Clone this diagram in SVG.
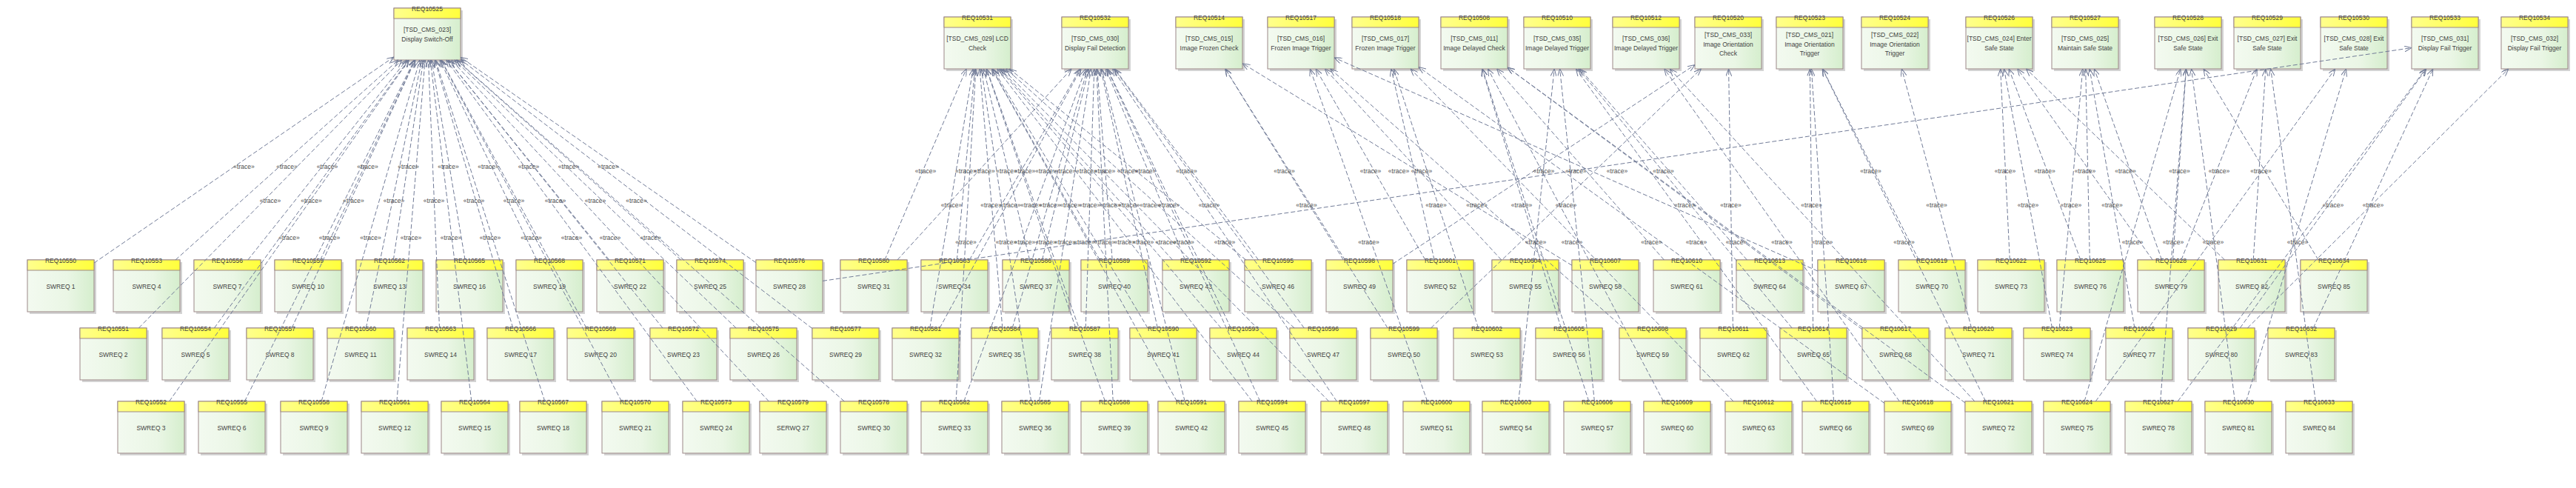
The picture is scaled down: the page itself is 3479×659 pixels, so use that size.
<svg xmlns="http://www.w3.org/2000/svg" width="3479" height="659" viewBox="0 0 3479 659">
<style>
.c{stroke:#717b97;stroke-width:1;stroke-dasharray:6 3;fill:none;marker-end:url(#arr)}
.lb{font-family:"Liberation Sans",Arial,sans-serif;font-size:8.5px;fill:#4a4a4a;text-anchor:middle}
.id{font-family:"Liberation Sans",Arial,sans-serif;font-size:8.5px;fill:#3f3f3f;text-anchor:middle}
.tx{font-family:"Liberation Sans",Arial,sans-serif;font-size:8.5px;fill:#3f3f3f;text-anchor:middle}
</style>
<defs>
<linearGradient id="gb" x1="0" y1="0" x2="1" y2="0"><stop offset="0" stop-color="#f3faf0"/><stop offset="0.6" stop-color="#eaf6e5"/><stop offset="1" stop-color="#d5eecd"/></linearGradient>
<linearGradient id="gh" x1="0" y1="0" x2="1" y2="0"><stop offset="0" stop-color="#ffff8c"/><stop offset="1" stop-color="#ffff3c"/></linearGradient>
<marker id="arr" viewBox="0 0 10 8" refX="10" refY="4" markerWidth="10" markerHeight="8" markerUnits="userSpaceOnUse" orient="auto"><path d="M0,0 L10,4 L0,8" fill="none" stroke="#6f7995" stroke-width="1"/></marker>
<g id="box">
<rect x="3" y="3" width="90" height="70" fill="#d3d3d3"/>
<rect x="0" y="0" width="90" height="70" fill="url(#gb)" stroke="#9c8787"/>
<rect x="0" y="0" width="90" height="14" fill="url(#gh)" stroke="#9c8787"/>
</g>
</defs>
<rect width="3479" height="659" fill="#ffffff"/>
<g id="nodes">
<g id="REQ10525" transform="translate(532,11)"><use href="#box"/><text class="id" x="45" y="4">REQ10525</text><text class="tx" x="45" y="32">[TSD_CMS_023]</text><text class="tx" x="45" y="45">Display Switch-Off</text></g>
<g id="REQ10531" transform="translate(1275,23)"><use href="#box"/><text class="id" x="45" y="4">REQ10531</text><text class="tx" x="45" y="32">[TSD_CMS_029] LCD</text><text class="tx" x="45" y="45">Check</text></g>
<g id="REQ10532" transform="translate(1434,23)"><use href="#box"/><text class="id" x="45" y="4">REQ10532</text><text class="tx" x="45" y="32">[TSD_CMS_030]</text><text class="tx" x="45" y="45">Display Fail Detection</text></g>
<g id="REQ10514" transform="translate(1588,23)"><use href="#box"/><text class="id" x="45" y="4">REQ10514</text><text class="tx" x="45" y="32">[TSD_CMS_015]</text><text class="tx" x="45" y="45">Image Frozen Check</text></g>
<g id="REQ10517" transform="translate(1712,23)"><use href="#box"/><text class="id" x="45" y="4">REQ10517</text><text class="tx" x="45" y="32">[TSD_CMS_016]</text><text class="tx" x="45" y="45">Frozen Image Trigger</text></g>
<g id="REQ10518" transform="translate(1826,23)"><use href="#box"/><text class="id" x="45" y="4">REQ10518</text><text class="tx" x="45" y="32">[TSD_CMS_017]</text><text class="tx" x="45" y="45">Frozen Image Trigger</text></g>
<g id="REQ10508" transform="translate(1946,23)"><use href="#box"/><text class="id" x="45" y="4">REQ10508</text><text class="tx" x="45" y="32">[TSD_CMS_011]</text><text class="tx" x="45" y="45">Image Delayed Check</text></g>
<g id="REQ10510" transform="translate(2058,23)"><use href="#box"/><text class="id" x="45" y="4">REQ10510</text><text class="tx" x="45" y="32">[TSD_CMS_035]</text><text class="tx" x="45" y="45">Image Delayed Trigger</text></g>
<g id="REQ10512" transform="translate(2178,23)"><use href="#box"/><text class="id" x="45" y="4">REQ10512</text><text class="tx" x="45" y="32">[TSD_CMS_036]</text><text class="tx" x="45" y="45">Image Delayed Trigger</text></g>
<g id="REQ10520" transform="translate(2289,23)"><use href="#box"/><text class="id" x="45" y="4">REQ10520</text><text class="tx" x="45" y="27">[TSD_CMS_033]</text><text class="tx" x="45" y="39.5">Image Orientation</text><text class="tx" x="45" y="52">Check</text></g>
<g id="REQ10523" transform="translate(2399,23)"><use href="#box"/><text class="id" x="45" y="4">REQ10523</text><text class="tx" x="45" y="27">[TSD_CMS_021]</text><text class="tx" x="45" y="39.5">Image Orientation</text><text class="tx" x="45" y="52">Trigger</text></g>
<g id="REQ10524" transform="translate(2514,23)"><use href="#box"/><text class="id" x="45" y="4">REQ10524</text><text class="tx" x="45" y="27">[TSD_CMS_022]</text><text class="tx" x="45" y="39.5">Image Orientation</text><text class="tx" x="45" y="52">Trigger</text></g>
<g id="REQ10526" transform="translate(2655,23)"><use href="#box"/><text class="id" x="45" y="4">REQ10526</text><text class="tx" x="45" y="32">[TSD_CMS_024] Enter</text><text class="tx" x="45" y="45">Safe State</text></g>
<g id="REQ10527" transform="translate(2771,23)"><use href="#box"/><text class="id" x="45" y="4">REQ10527</text><text class="tx" x="45" y="32">[TSD_CMS_025]</text><text class="tx" x="45" y="45">Maintain Safe State</text></g>
<g id="REQ10528" transform="translate(2910,23)"><use href="#box"/><text class="id" x="45" y="4">REQ10528</text><text class="tx" x="45" y="32">[TSD_CMS_026] Exit</text><text class="tx" x="45" y="45">Safe State</text></g>
<g id="REQ10529" transform="translate(3017,23)"><use href="#box"/><text class="id" x="45" y="4">REQ10529</text><text class="tx" x="45" y="32">[TSD_CMS_027] Exit</text><text class="tx" x="45" y="45">Safe State</text></g>
<g id="REQ10530" transform="translate(3134,23)"><use href="#box"/><text class="id" x="45" y="4">REQ10530</text><text class="tx" x="45" y="32">[TSD_CMS_028] Exit</text><text class="tx" x="45" y="45">Safe State</text></g>
<g id="REQ10533" transform="translate(3257,23)"><use href="#box"/><text class="id" x="45" y="4">REQ10533</text><text class="tx" x="45" y="32">[TSD_CMS_031]</text><text class="tx" x="45" y="45">Display Fail Trigger</text></g>
<g id="REQ10534" transform="translate(3378,23)"><use href="#box"/><text class="id" x="45" y="4">REQ10534</text><text class="tx" x="45" y="32">[TSD_CMS_032]</text><text class="tx" x="45" y="45">Display Fail Trigger</text></g>

<g id="REQ10550" transform="translate(37,351)"><use href="#box"/><text class="id" x="45" y="4">REQ10550</text><text class="tx" x="45" y="39">SWREQ 1</text></g>
<g id="REQ10553" transform="translate(153,351)"><use href="#box"/><text class="id" x="45" y="4">REQ10553</text><text class="tx" x="45" y="39">SWREQ 4</text></g>
<g id="REQ10556" transform="translate(262,351)"><use href="#box"/><text class="id" x="45" y="4">REQ10556</text><text class="tx" x="45" y="39">SWREQ 7</text></g>
<g id="REQ10559" transform="translate(371,351)"><use href="#box"/><text class="id" x="45" y="4">REQ10559</text><text class="tx" x="45" y="39">SWREQ 10</text></g>
<g id="REQ10562" transform="translate(481,351)"><use href="#box"/><text class="id" x="45" y="4">REQ10562</text><text class="tx" x="45" y="39">SWREQ 13</text></g>
<g id="REQ10565" transform="translate(589,351)"><use href="#box"/><text class="id" x="45" y="4">REQ10565</text><text class="tx" x="45" y="39">SWREQ 16</text></g>
<g id="REQ10568" transform="translate(697,351)"><use href="#box"/><text class="id" x="45" y="4">REQ10568</text><text class="tx" x="45" y="39">SWREQ 19</text></g>
<g id="REQ10571" transform="translate(806,351)"><use href="#box"/><text class="id" x="45" y="4">REQ10571</text><text class="tx" x="45" y="39">SWREQ 22</text></g>
<g id="REQ10574" transform="translate(914,351)"><use href="#box"/><text class="id" x="45" y="4">REQ10574</text><text class="tx" x="45" y="39">SWREQ 25</text></g>
<g id="REQ10576" transform="translate(1021,351)"><use href="#box"/><text class="id" x="45" y="4">REQ10576</text><text class="tx" x="45" y="39">SWREQ 28</text></g>
<g id="REQ10580" transform="translate(1135,351)"><use href="#box"/><text class="id" x="45" y="4">REQ10580</text><text class="tx" x="45" y="39">SWREQ 31</text></g>
<g id="REQ10583" transform="translate(1244,351)"><use href="#box"/><text class="id" x="45" y="4">REQ10583</text><text class="tx" x="45" y="39">SWREQ 34</text></g>
<g id="REQ10586" transform="translate(1354,351)"><use href="#box"/><text class="id" x="45" y="4">REQ10586</text><text class="tx" x="45" y="39">SWREQ 37</text></g>
<g id="REQ10589" transform="translate(1460,351)"><use href="#box"/><text class="id" x="45" y="4">REQ10589</text><text class="tx" x="45" y="39">SWREQ 40</text></g>
<g id="REQ10592" transform="translate(1570,351)"><use href="#box"/><text class="id" x="45" y="4">REQ10592</text><text class="tx" x="45" y="39">SWREQ 43</text></g>
<g id="REQ10595" transform="translate(1681,351)"><use href="#box"/><text class="id" x="45" y="4">REQ10595</text><text class="tx" x="45" y="39">SWREQ 46</text></g>
<g id="REQ10598" transform="translate(1791,351)"><use href="#box"/><text class="id" x="45" y="4">REQ10598</text><text class="tx" x="45" y="39">SWREQ 49</text></g>
<g id="REQ10601" transform="translate(1900,351)"><use href="#box"/><text class="id" x="45" y="4">REQ10601</text><text class="tx" x="45" y="39">SWREQ 52</text></g>
<g id="REQ10604" transform="translate(2015,351)"><use href="#box"/><text class="id" x="45" y="4">REQ10604</text><text class="tx" x="45" y="39">SWREQ 55</text></g>
<g id="REQ10607" transform="translate(2123,351)"><use href="#box"/><text class="id" x="45" y="4">REQ10607</text><text class="tx" x="45" y="39">SWREQ 58</text></g>
<g id="REQ10610" transform="translate(2233,351)"><use href="#box"/><text class="id" x="45" y="4">REQ10610</text><text class="tx" x="45" y="39">SWREQ 61</text></g>
<g id="REQ10613" transform="translate(2345,351)"><use href="#box"/><text class="id" x="45" y="4">REQ10613</text><text class="tx" x="45" y="39">SWREQ 64</text></g>
<g id="REQ10616" transform="translate(2455,351)"><use href="#box"/><text class="id" x="45" y="4">REQ10616</text><text class="tx" x="45" y="39">SWREQ 67</text></g>
<g id="REQ10619" transform="translate(2564,351)"><use href="#box"/><text class="id" x="45" y="4">REQ10619</text><text class="tx" x="45" y="39">SWREQ 70</text></g>
<g id="REQ10622" transform="translate(2671,351)"><use href="#box"/><text class="id" x="45" y="4">REQ10622</text><text class="tx" x="45" y="39">SWREQ 73</text></g>
<g id="REQ10625" transform="translate(2778,351)"><use href="#box"/><text class="id" x="45" y="4">REQ10625</text><text class="tx" x="45" y="39">SWREQ 76</text></g>
<g id="REQ10628" transform="translate(2887,351)"><use href="#box"/><text class="id" x="45" y="4">REQ10628</text><text class="tx" x="45" y="39">SWREQ 79</text></g>
<g id="REQ10631" transform="translate(2996,351)"><use href="#box"/><text class="id" x="45" y="4">REQ10631</text><text class="tx" x="45" y="39">SWREQ 82</text></g>
<g id="REQ10634" transform="translate(3107,351)"><use href="#box"/><text class="id" x="45" y="4">REQ10634</text><text class="tx" x="45" y="39">SWREQ 85</text></g>

<g id="REQ10551" transform="translate(108,443)"><use href="#box"/><text class="id" x="45" y="4">REQ10551</text><text class="tx" x="45" y="39">SWREQ 2</text></g>
<g id="REQ10554" transform="translate(219,443)"><use href="#box"/><text class="id" x="45" y="4">REQ10554</text><text class="tx" x="45" y="39">SWREQ 5</text></g>
<g id="REQ10557" transform="translate(333,443)"><use href="#box"/><text class="id" x="45" y="4">REQ10557</text><text class="tx" x="45" y="39">SWREQ 8</text></g>
<g id="REQ10560" transform="translate(442,443)"><use href="#box"/><text class="id" x="45" y="4">REQ10560</text><text class="tx" x="45" y="39">SWREQ 11</text></g>
<g id="REQ10563" transform="translate(550,443)"><use href="#box"/><text class="id" x="45" y="4">REQ10563</text><text class="tx" x="45" y="39">SWREQ 14</text></g>
<g id="REQ10566" transform="translate(658,443)"><use href="#box"/><text class="id" x="45" y="4">REQ10566</text><text class="tx" x="45" y="39">SWREQ 17</text></g>
<g id="REQ10569" transform="translate(766,443)"><use href="#box"/><text class="id" x="45" y="4">REQ10569</text><text class="tx" x="45" y="39">SWREQ 20</text></g>
<g id="REQ10572" transform="translate(878,443)"><use href="#box"/><text class="id" x="45" y="4">REQ10572</text><text class="tx" x="45" y="39">SWREQ 23</text></g>
<g id="REQ10575" transform="translate(986,443)"><use href="#box"/><text class="id" x="45" y="4">REQ10575</text><text class="tx" x="45" y="39">SWREQ 26</text></g>
<g id="REQ10577" transform="translate(1097,443)"><use href="#box"/><text class="id" x="45" y="4">REQ10577</text><text class="tx" x="45" y="39">SWREQ 29</text></g>
<g id="REQ10581" transform="translate(1205,443)"><use href="#box"/><text class="id" x="45" y="4">REQ10581</text><text class="tx" x="45" y="39">SWREQ 32</text></g>
<g id="REQ10584" transform="translate(1312,443)"><use href="#box"/><text class="id" x="45" y="4">REQ10584</text><text class="tx" x="45" y="39">SWREQ 35</text></g>
<g id="REQ10587" transform="translate(1420,443)"><use href="#box"/><text class="id" x="45" y="4">REQ10587</text><text class="tx" x="45" y="39">SWREQ 38</text></g>
<g id="REQ10590" transform="translate(1526,443)"><use href="#box"/><text class="id" x="45" y="4">REQ10590</text><text class="tx" x="45" y="39">SWREQ 41</text></g>
<g id="REQ10593" transform="translate(1634,443)"><use href="#box"/><text class="id" x="45" y="4">REQ10593</text><text class="tx" x="45" y="39">SWREQ 44</text></g>
<g id="REQ10596" transform="translate(1742,443)"><use href="#box"/><text class="id" x="45" y="4">REQ10596</text><text class="tx" x="45" y="39">SWREQ 47</text></g>
<g id="REQ10599" transform="translate(1851,443)"><use href="#box"/><text class="id" x="45" y="4">REQ10599</text><text class="tx" x="45" y="39">SWREQ 50</text></g>
<g id="REQ10602" transform="translate(1963,443)"><use href="#box"/><text class="id" x="45" y="4">REQ10602</text><text class="tx" x="45" y="39">SWREQ 53</text></g>
<g id="REQ10605" transform="translate(2074,443)"><use href="#box"/><text class="id" x="45" y="4">REQ10605</text><text class="tx" x="45" y="39">SWREQ 56</text></g>
<g id="REQ10608" transform="translate(2187,443)"><use href="#box"/><text class="id" x="45" y="4">REQ10608</text><text class="tx" x="45" y="39">SWREQ 59</text></g>
<g id="REQ10611" transform="translate(2296,443)"><use href="#box"/><text class="id" x="45" y="4">REQ10611</text><text class="tx" x="45" y="39">SWREQ 62</text></g>
<g id="REQ10614" transform="translate(2404,443)"><use href="#box"/><text class="id" x="45" y="4">REQ10614</text><text class="tx" x="45" y="39">SWREQ 65</text></g>
<g id="REQ10617" transform="translate(2515,443)"><use href="#box"/><text class="id" x="45" y="4">REQ10617</text><text class="tx" x="45" y="39">SWREQ 68</text></g>
<g id="REQ10620" transform="translate(2627,443)"><use href="#box"/><text class="id" x="45" y="4">REQ10620</text><text class="tx" x="45" y="39">SWREQ 71</text></g>
<g id="REQ10623" transform="translate(2733,443)"><use href="#box"/><text class="id" x="45" y="4">REQ10623</text><text class="tx" x="45" y="39">SWREQ 74</text></g>
<g id="REQ10626" transform="translate(2844,443)"><use href="#box"/><text class="id" x="45" y="4">REQ10626</text><text class="tx" x="45" y="39">SWREQ 77</text></g>
<g id="REQ10629" transform="translate(2955,443)"><use href="#box"/><text class="id" x="45" y="4">REQ10629</text><text class="tx" x="45" y="39">SWREQ 80</text></g>
<g id="REQ10632" transform="translate(3063,443)"><use href="#box"/><text class="id" x="45" y="4">REQ10632</text><text class="tx" x="45" y="39">SWREQ 83</text></g>

<g id="REQ10552" transform="translate(159,542)"><use href="#box"/><text class="id" x="45" y="4">REQ10552</text><text class="tx" x="45" y="39">SWREQ 3</text></g>
<g id="REQ10555" transform="translate(268,542)"><use href="#box"/><text class="id" x="45" y="4">REQ10555</text><text class="tx" x="45" y="39">SWREQ 6</text></g>
<g id="REQ10558" transform="translate(379,542)"><use href="#box"/><text class="id" x="45" y="4">REQ10558</text><text class="tx" x="45" y="39">SWREQ 9</text></g>
<g id="REQ10561" transform="translate(488,542)"><use href="#box"/><text class="id" x="45" y="4">REQ10561</text><text class="tx" x="45" y="39">SWREQ 12</text></g>
<g id="REQ10564" transform="translate(596,542)"><use href="#box"/><text class="id" x="45" y="4">REQ10564</text><text class="tx" x="45" y="39">SWREQ 15</text></g>
<g id="REQ10567" transform="translate(702,542)"><use href="#box"/><text class="id" x="45" y="4">REQ10567</text><text class="tx" x="45" y="39">SWREQ 18</text></g>
<g id="REQ10570" transform="translate(813,542)"><use href="#box"/><text class="id" x="45" y="4">REQ10570</text><text class="tx" x="45" y="39">SWREQ 21</text></g>
<g id="REQ10573" transform="translate(922,542)"><use href="#box"/><text class="id" x="45" y="4">REQ10573</text><text class="tx" x="45" y="39">SWREQ 24</text></g>
<g id="REQ10579" transform="translate(1026,542)"><use href="#box"/><text class="id" x="45" y="4">REQ10579</text><text class="tx" x="45" y="39">SERWQ 27</text></g>
<g id="REQ10578" transform="translate(1135,542)"><use href="#box"/><text class="id" x="45" y="4">REQ10578</text><text class="tx" x="45" y="39">SWREQ 30</text></g>
<g id="REQ10582" transform="translate(1244,542)"><use href="#box"/><text class="id" x="45" y="4">REQ10582</text><text class="tx" x="45" y="39">SWREQ 33</text></g>
<g id="REQ10585" transform="translate(1353,542)"><use href="#box"/><text class="id" x="45" y="4">REQ10585</text><text class="tx" x="45" y="39">SWREQ 36</text></g>
<g id="REQ10588" transform="translate(1460,542)"><use href="#box"/><text class="id" x="45" y="4">REQ10588</text><text class="tx" x="45" y="39">SWREQ 39</text></g>
<g id="REQ10591" transform="translate(1564,542)"><use href="#box"/><text class="id" x="45" y="4">REQ10591</text><text class="tx" x="45" y="39">SWREQ 42</text></g>
<g id="REQ10594" transform="translate(1673,542)"><use href="#box"/><text class="id" x="45" y="4">REQ10594</text><text class="tx" x="45" y="39">SWREQ 45</text></g>
<g id="REQ10597" transform="translate(1784,542)"><use href="#box"/><text class="id" x="45" y="4">REQ10597</text><text class="tx" x="45" y="39">SWREQ 48</text></g>
<g id="REQ10600" transform="translate(1895,542)"><use href="#box"/><text class="id" x="45" y="4">REQ10600</text><text class="tx" x="45" y="39">SWREQ 51</text></g>
<g id="REQ10603" transform="translate(2002,542)"><use href="#box"/><text class="id" x="45" y="4">REQ10603</text><text class="tx" x="45" y="39">SWREQ 54</text></g>
<g id="REQ10606" transform="translate(2112,542)"><use href="#box"/><text class="id" x="45" y="4">REQ10606</text><text class="tx" x="45" y="39">SWREQ 57</text></g>
<g id="REQ10609" transform="translate(2220,542)"><use href="#box"/><text class="id" x="45" y="4">REQ10609</text><text class="tx" x="45" y="39">SWREQ 60</text></g>
<g id="REQ10612" transform="translate(2330,542)"><use href="#box"/><text class="id" x="45" y="4">REQ10612</text><text class="tx" x="45" y="39">SWREQ 63</text></g>
<g id="REQ10615" transform="translate(2434,542)"><use href="#box"/><text class="id" x="45" y="4">REQ10615</text><text class="tx" x="45" y="39">SWREQ 66</text></g>
<g id="REQ10618" transform="translate(2545,542)"><use href="#box"/><text class="id" x="45" y="4">REQ10618</text><text class="tx" x="45" y="39">SWREQ 69</text></g>
<g id="REQ10621" transform="translate(2654,542)"><use href="#box"/><text class="id" x="45" y="4">REQ10621</text><text class="tx" x="45" y="39">SWREQ 72</text></g>
<g id="REQ10624" transform="translate(2760,542)"><use href="#box"/><text class="id" x="45" y="4">REQ10624</text><text class="tx" x="45" y="39">SWREQ 75</text></g>
<g id="REQ10627" transform="translate(2870,542)"><use href="#box"/><text class="id" x="45" y="4">REQ10627</text><text class="tx" x="45" y="39">SWREQ 78</text></g>
<g id="REQ10630" transform="translate(2978,542)"><use href="#box"/><text class="id" x="45" y="4">REQ10630</text><text class="tx" x="45" y="39">SWREQ 81</text></g>
<g id="REQ10633" transform="translate(3087,542)"><use href="#box"/><text class="id" x="45" y="4">REQ10633</text><text class="tx" x="45" y="39">SWREQ 84</text></g>
</g>

<g id="connectors">
<line class="c" x1="127" y1="355.1" x2="532" y2="76.9"/><text class="lb" x="329.5" y="228">«trace»</text>
<line class="c" x1="187.4" y1="443" x2="542.6" y2="81"/><text class="lb" x="365" y="274">«trace»</text>
<line class="c" x1="228.6" y1="542" x2="552.4" y2="81"/><text class="lb" x="390.5" y="323.5">«trace»</text>
<line class="c" x1="237" y1="351" x2="538" y2="81"/><text class="lb" x="387.5" y="228">«trace»</text>
<line class="c" x1="289.4" y1="443" x2="551.6" y2="81"/><text class="lb" x="420.5" y="274">«trace»</text>
<line class="c" x1="330.4" y1="542" x2="559.6" y2="81"/><text class="lb" x="445" y="323.5">«trace»</text>
<line class="c" x1="334.8" y1="351" x2="549.2" y2="81"/><text class="lb" x="442" y="228">«trace»</text>
<line class="c" x1="394.1" y1="443" x2="560.9" y2="81"/><text class="lb" x="477.5" y="274">«trace»</text>
<line class="c" x1="434.1" y1="542" x2="566.9" y2="81"/><text class="lb" x="500.5" y="323.5">«trace»</text>
<line class="c" x1="432.6" y1="351" x2="560.4" y2="81"/><text class="lb" x="496.5" y="228">«trace»</text>
<line class="c" x1="494.3" y1="443" x2="569.7" y2="81"/><text class="lb" x="532" y="274">«trace»</text>
<line class="c" x1="535.9" y1="542" x2="574.1" y2="81"/><text class="lb" x="555" y="323.5">«trace»</text>
<line class="c" x1="531.3" y1="351" x2="571.8" y2="81"/><text class="lb" x="551.5" y="228">«trace»</text>
<line class="c" x1="593.5" y1="443" x2="578.5" y2="81"/><text class="lb" x="586" y="274">«trace»</text>
<line class="c" x1="636.8" y1="542" x2="581.2" y2="81"/><text class="lb" x="609" y="323.5">«trace»</text>
<line class="c" x1="628.1" y1="351" x2="582.9" y2="81"/><text class="lb" x="605.5" y="228">«trace»</text>
<line class="c" x1="692.8" y1="443" x2="587.2" y2="81"/><text class="lb" x="640" y="274">«trace»</text>
<line class="c" x1="735.8" y1="542" x2="588.2" y2="81"/><text class="lb" x="662" y="323.5">«trace»</text>
<line class="c" x1="725" y1="351" x2="594" y2="81"/><text class="lb" x="659.5" y="228">«trace»</text>
<line class="c" x1="792" y1="443" x2="596" y2="81"/><text class="lb" x="694" y="274">«trace»</text>
<line class="c" x1="839.5" y1="542" x2="595.5" y2="81"/><text class="lb" x="717.5" y="323.5">«trace»</text>
<line class="c" x1="822.8" y1="351" x2="605.2" y2="81"/><text class="lb" x="714" y="228">«trace»</text>
<line class="c" x1="895" y1="443" x2="605" y2="81"/><text class="lb" x="750" y="274">«trace»</text>
<line class="c" x1="941.3" y1="542" x2="602.7" y2="81"/><text class="lb" x="772" y="323.5">«trace»</text>
<line class="c" x1="919.7" y1="351" x2="616.3" y2="81"/><text class="lb" x="768" y="228">«trace»</text>
<line class="c" x1="994.2" y1="443" x2="613.8" y2="81"/><text class="lb" x="804" y="274">«trace»</text>
<line class="c" x1="1038.4" y1="542" x2="609.6" y2="81"/><text class="lb" x="824" y="323.5">«trace»</text>
<line class="c" x1="1021" y1="354.7" x2="622" y2="77.3"/><text class="lb" x="821.5" y="228">«trace»</text>
<line class="c" x1="1097" y1="443.6" x2="622" y2="80.4"/><text class="lb" x="859.5" y="274">«trace»</text>
<line class="c" x1="1140.3" y1="542" x2="616.7" y2="81"/><text class="lb" x="878.5" y="323.5">«trace»</text>

<line class="c" x1="1194.9" y1="351" x2="1305.1" y2="93"/><text class="lb" x="1250" y="234">«trace»</text>
<line class="c" x1="1255.8" y1="443" x2="1314.2" y2="93"/><text class="lb" x="1285" y="280">«trace»</text>
<line class="c" x1="1291.1" y1="542" x2="1317.9" y2="93"/><text class="lb" x="1304.5" y="329.5">«trace»</text>
<line class="c" x1="1292.3" y1="351" x2="1316.7" y2="93"/><text class="lb" x="1304.5" y="234">«trace»</text>
<line class="c" x1="1353.9" y1="443" x2="1323.1" y2="93"/><text class="lb" x="1338.5" y="280">«trace»</text>
<line class="c" x1="1392.7" y1="542" x2="1325.3" y2="93"/><text class="lb" x="1359" y="329.5">«trace»</text>
<line class="c" x1="1390.6" y1="351" x2="1328.4" y2="93"/><text class="lb" x="1359.5" y="234">«trace»</text>
<line class="c" x1="1452.9" y1="443" x2="1332.1" y2="93"/><text class="lb" x="1392.5" y="280">«trace»</text>
<line class="c" x1="1492.5" y1="542" x2="1332.5" y2="93"/><text class="lb" x="1412.5" y="329.5">«trace»</text>
<line class="c" x1="1485.3" y1="351" x2="1339.7" y2="93"/><text class="lb" x="1412.5" y="234">«trace»</text>
<line class="c" x1="1550.1" y1="443" x2="1340.9" y2="93"/><text class="lb" x="1445.5" y="280">«trace»</text>
<line class="c" x1="1589.5" y1="542" x2="1339.5" y2="93"/><text class="lb" x="1464.5" y="329.5">«trace»</text>
<line class="c" x1="1583.5" y1="351" x2="1351.5" y2="93"/><text class="lb" x="1467.5" y="234">«trace»</text>
<line class="c" x1="1649.1" y1="443" x2="1349.9" y2="93"/><text class="lb" x="1499.5" y="280">«trace»</text>
<line class="c" x1="1691.2" y1="542" x2="1346.8" y2="93"/><text class="lb" x="1519" y="329.5">«trace»</text>
<line class="c" x1="1682.7" y1="351" x2="1363.3" y2="93"/><text class="lb" x="1523" y="234">«trace»</text>
<line class="c" x1="1748.1" y1="443" x2="1358.9" y2="93"/><text class="lb" x="1553.5" y="280">«trace»</text>
<line class="c" x1="1794.7" y1="542" x2="1354.3" y2="93"/><text class="lb" x="1574.5" y="329.5">«trace»</text>

<line class="c" x1="1211.9" y1="351" x2="1447.1" y2="93"/><text class="lb" x="1329.5" y="234">«trace»</text>
<line class="c" x1="1269.1" y1="443" x2="1459.9" y2="93"/><text class="lb" x="1364.5" y="280">«trace»</text>
<line class="c" x1="1301.8" y1="542" x2="1466.2" y2="93"/><text class="lb" x="1384" y="329.5">«trace»</text>
<line class="c" x1="1309.3" y1="351" x2="1458.7" y2="93"/><text class="lb" x="1384" y="234">«trace»</text>
<line class="c" x1="1367.2" y1="443" x2="1468.8" y2="93"/><text class="lb" x="1418" y="280">«trace»</text>
<line class="c" x1="1403.5" y1="542" x2="1473.5" y2="93"/><text class="lb" x="1438.5" y="329.5">«trace»</text>
<line class="c" x1="1407.5" y1="351" x2="1470.5" y2="93"/><text class="lb" x="1439" y="234">«trace»</text>
<line class="c" x1="1466.2" y1="443" x2="1477.8" y2="93"/><text class="lb" x="1472" y="280">«trace»</text>
<line class="c" x1="1503.2" y1="542" x2="1480.8" y2="93"/><text class="lb" x="1492" y="329.5">«trace»</text>
<line class="c" x1="1502.2" y1="351" x2="1481.8" y2="93"/><text class="lb" x="1492" y="234">«trace»</text>
<line class="c" x1="1563.3" y1="443" x2="1486.7" y2="93"/><text class="lb" x="1525" y="280">«trace»</text>
<line class="c" x1="1600.2" y1="542" x2="1487.8" y2="93"/><text class="lb" x="1544" y="329.5">«trace»</text>
<line class="c" x1="1600.5" y1="351" x2="1493.5" y2="93"/><text class="lb" x="1547" y="234">«trace»</text>
<line class="c" x1="1662.3" y1="443" x2="1495.7" y2="93"/><text class="lb" x="1579" y="280">«trace»</text>
<line class="c" x1="1701.9" y1="542" x2="1495.1" y2="93"/><text class="lb" x="1598.5" y="329.5">«trace»</text>
<line class="c" x1="1699.6" y1="351" x2="1505.4" y2="93"/><text class="lb" x="1602.5" y="234">«trace»</text>
<line class="c" x1="1761.3" y1="443" x2="1504.7" y2="93"/><text class="lb" x="1633" y="280">«trace»</text>
<line class="c" x1="1805.4" y1="542" x2="1502.6" y2="93"/><text class="lb" x="1654" y="329.5">«trace»</text>

<line class="c" x1="1111" y1="379.4" x2="3257" y2="64.6"/><text class="lb" x="2184" y="234">«trace»</text>

<line class="c" x1="1814.3" y1="351" x2="1654.7" y2="93"/><text class="lb" x="1734.5" y="234">«trace»</text>
<line class="c" x1="1874.1" y1="443" x2="1654.9" y2="93"/><text class="lb" x="1764.5" y="280">«trace»</text>
<line class="c" x1="2123" y1="358.4" x2="1678" y2="85.6"/><text class="lb" x="1889" y="234">«trace»</text>

<line class="c" x1="1927.7" y1="542" x2="1769.3" y2="93"/><text class="lb" x="1848.5" y="329.5">«trace»</text>
<line class="c" x1="1924.9" y1="351" x2="1777.1" y2="93"/><text class="lb" x="1851" y="234">«trace»</text>
<line class="c" x1="2027.7" y1="351" x2="1789.3" y2="93"/><text class="lb" x="1920" y="234">«trace»</text>
<line class="c" x1="2192.4" y1="443" x2="1796.6" y2="93"/><text class="lb" x="1994.5" y="280">«trace»</text>
<line class="c" x1="2455" y1="366.1" x2="1802" y2="77.9"/><text class="lb" x="2128.5" y="234">«trace»</text>

<line class="c" x1="1937.1" y1="351" x2="1878.9" y2="93"/>
<line class="c" x1="1996.6" y1="443" x2="1882.4" y2="93"/><text class="lb" x="1939.5" y="280">«trace»</text>
<line class="c" x1="2341" y1="542" x2="1905" y2="93"/><text class="lb" x="2123" y="329.5">«trace»</text>
<line class="c" x1="2545" y1="544.5" x2="1916" y2="90.5"/><text class="lb" x="2230.5" y="329.5">«trace»</text>

<line class="c" x1="2108.3" y1="443" x2="2001.7" y2="93"/><text class="lb" x="2055" y="280">«trace»</text>
<line class="c" x1="2145.8" y1="542" x2="2002.2" y2="93"/><text class="lb" x="2074" y="329.5">«trace»</text>
<line class="c" x1="2246.5" y1="542" x2="2009.5" y2="93"/>
<line class="c" x1="2247.4" y1="351" x2="2021.6" y2="93"/>
<line class="c" x1="2515" y1="444.8" x2="2036" y2="91.2"/><text class="lb" x="2275.5" y="280">«trace»</text>
<line class="c" x1="2654" y1="544" x2="2036" y2="91"/><text class="lb" x="2345" y="329.5">«trace»</text>

<line class="c" x1="2050.8" y1="542" x2="2099.2" y2="93"/>
<line class="c" x1="2153.4" y1="542" x2="2106.6" y2="93"/>
<line class="c" x1="2359.4" y1="351" x2="2133.6" y2="93"/><text class="lb" x="2246.5" y="234">«trace»</text>
<line class="c" x1="2420.2" y1="443" x2="2131.8" y2="93"/>
<line class="c" x1="2453.6" y1="542" x2="2128.4" y2="93"/><text class="lb" x="2291" y="329.5">«trace»</text>

<line class="c" x1="2565.3" y1="542" x2="2247.8" y2="93"/><text class="lb" x="2406.5" y="329.5">«trace»</text>
<line class="c" x1="2666.9" y1="542" x2="2255.1" y2="93"/><text class="lb" x="2461" y="329.5">«trace»</text>

<line class="c" x1="2340.4" y1="443" x2="2334.6" y2="93"/><text class="lb" x="2337.5" y="280">«trace»</text>
<line class="c" x1="1881" y1="356.4" x2="2289" y2="87.6"/><text class="lb" x="2085" y="234">«trace»</text>
<line class="c" x1="1932.5" y1="443" x2="2297.5" y2="93"/><text class="lb" x="2115" y="280">«trace»</text>

<line class="c" x1="2448.6" y1="443" x2="2444.4" y2="93"/><text class="lb" x="2446.5" y="280">«trace»</text>
<line class="c" x1="2476.6" y1="542" x2="2446.4" y2="93"/>
<line class="c" x1="2591.4" y1="351" x2="2461.6" y2="93"/><text class="lb" x="2526.5" y="234">«trace»</text>
<line class="c" x1="2681.8" y1="542" x2="2461.2" y2="93"/><text class="lb" x="2571.5" y="329.5">«trace»</text>

<line class="c" x1="2662.6" y1="443" x2="2568.4" y2="93"/><text class="lb" x="2615.5" y="280">«trace»</text>

<line class="c" x1="2714.3" y1="351" x2="2701.7" y2="93"/><text class="lb" x="2708" y="234">«trace»</text>
<line class="c" x1="2809.9" y1="351" x2="2713.1" y2="93"/><text class="lb" x="2761.5" y="234">«trace»</text>
<line class="c" x1="2907.2" y1="351" x2="2724.8" y2="93"/><text class="lb" x="2816" y="234">«trace»</text>
<line class="c" x1="3004.6" y1="351" x2="2736.4" y2="93"/><text class="lb" x="2870.5" y="234">«trace»</text>
<line class="c" x1="2771.5" y1="443" x2="2706.5" y2="93"/><text class="lb" x="2739" y="280">«trace»</text>

<line class="c" x1="2781.2" y1="443" x2="2812.8" y2="93"/><text class="lb" x="2797" y="280">«trace»</text>
<line class="c" x1="2882.9" y1="443" x2="2822.1" y2="93"/><text class="lb" x="2852.5" y="280">«trace»</text>
<line class="c" x1="2822.3" y1="351" x2="2816.7" y2="93"/>
<line class="c" x1="2919.6" y1="351" x2="2828.4" y2="93"/>

<line class="c" x1="2934.5" y1="351" x2="2952.5" y2="93"/><text class="lb" x="2943.5" y="234">«trace»</text>
<line class="c" x1="3131" y1="351" x2="2976" y2="93"/><text class="lb" x="3053.5" y="234">«trace»</text>
<line class="c" x1="2815.1" y1="542" x2="2944.9" y2="93"/><text class="lb" x="2880" y="329.5">«trace»</text>
<line class="c" x1="2917.7" y1="542" x2="2952.3" y2="93"/><text class="lb" x="2935" y="329.5">«trace»</text>
<line class="c" x1="3018.4" y1="542" x2="2959.6" y2="93"/><text class="lb" x="2989" y="329.5">«trace»</text>

<line class="c" x1="2945.9" y1="351" x2="3048.1" y2="93"/><text class="lb" x="2997" y="234">«trace»</text>
<line class="c" x1="3043.2" y1="351" x2="3059.8" y2="93"/>
<line class="c" x1="3127.3" y1="542" x2="3066.7" y2="93"/>

<line class="c" x1="2830.2" y1="542" x2="3153.8" y2="93"/>
<line class="c" x1="3033.5" y1="542" x2="3168.5" y2="93"/>

<line class="c" x1="2941.1" y1="542" x2="3275.9" y2="93"/><text class="lb" x="3103" y="329.5">«trace»</text>
<line class="c" x1="3025.2" y1="443" x2="3276.8" y2="93"/><text class="lb" x="3151" y="280">«trace»</text>
<line class="c" x1="3124.2" y1="443" x2="3285.8" y2="93"/><text class="lb" x="3205" y="280">«trace»</text>

<line class="c" x1="3035.3" y1="443" x2="3387.8" y2="93"/>
</g>
</svg>
